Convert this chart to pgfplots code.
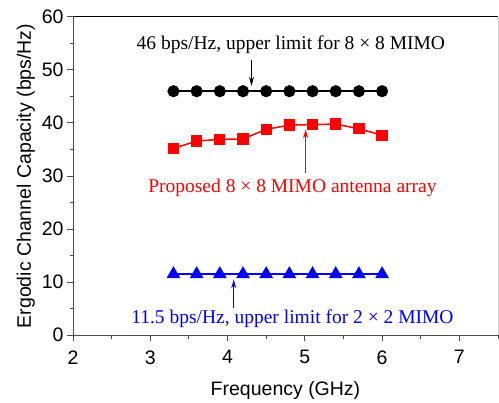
\documentclass[border=0pt]{standalone}
\usepackage{fontspec}
\setmainfont{Liberation Serif}
\newfontfamily\arial{Liberation Sans}
\usepackage{pgfplots}
\pgfplotsset{compat=1.18}
\usetikzlibrary{calc,arrows.meta}

\begin{document}
\begin{tikzpicture}
\begin{axis}[name=ax, scale only axis, width=425pt, height=318pt,
  xmin=2, xmax=7.5, ymin=0, ymax=60,
  xtick={2,...,7}, ytick={0,10,...,60},
  minor xtick={2.5,3.5,...,7.5}, minor ytick={5,15,...,55},
  axis x line*=bottom, axis y line*=left,
  tick align=outside,
  major tick length=6pt, minor tick length=3.5pt,
  axis line style={color=black!70, line width=1pt},
  tick style={color=black!70, line width=1pt},
  tick label style={font=\arial\fontsize{19.5}{22}\selectfont, black},
  xticklabel style={yshift=-6pt},
  label style={font=\arial\fontsize{19.5}{22}\selectfont},
  xlabel style={yshift=-10pt},
  /pgf/number format/assume math mode=true,
  xlabel={Frequency (GHz)}, ylabel={Ergodic Channel Capacity (bps/Hz)},
  clip=false,
]
\draw[black, line width=1pt] (rel axis cs:0,1) -- (rel axis cs:1,1);
\draw[black!20, line width=1pt] (rel axis cs:1,0) -- (rel axis cs:1,1);

\addplot[black, line width=1.5pt, mark=*, mark size=5.3pt] coordinates {
(3.3,46) (3.6,46) (3.9,46) (4.2,46) (4.5,46) (4.8,46) (5.1,46) (5.4,46) (5.7,46) (6.0,46)};
\addplot[red, line width=1.5pt, mark=square*, mark size=4.9pt] coordinates {
(3.3,35.2) (3.6,36.6) (3.9,36.9) (4.2,37.0) (4.5,38.8) (4.8,39.6) (5.1,39.7) (5.4,39.8) (5.7,38.9) (6.0,37.7)};
\addplot[blue, line width=1.5pt, mark=triangle*, mark size=6.4pt] coordinates {
(3.3,11.5) (3.6,11.5) (3.9,11.5) (4.2,11.5) (4.5,11.5) (4.8,11.5) (5.1,11.5) (5.4,11.5) (5.7,11.5) (6.0,11.5)};

\node[anchor=base, font=\fontsize{19.5}{22}\selectfont, black] at (axis cs:4.82,53.8) {46 bps/Hz, upper limit for 8 × 8 MIMO};
\node[anchor=base, font=\fontsize{19.5}{22}\selectfont, red] at (axis cs:4.84,26.8) {Proposed 8 × 8 MIMO antenna array};
\node[anchor=base, font=\fontsize{19.5}{22}\selectfont, blue] at (axis cs:4.84,2.1) {11.5 bps/Hz, upper limit for 2 × 2 MIMO};

\draw[black, line width=1pt, -{Stealth[length=9pt,width=5pt]}] (axis cs:4.31,51.9) -- (axis cs:4.31,47.0);
\draw[red, line width=1pt, -{Stealth[length=9pt,width=5pt]}] (axis cs:5.01,30.6) -- (axis cs:5.01,38.8);
\draw[blue, line width=1pt, -{Stealth[length=9pt,width=5pt]}] (axis cs:4.08,5.1) -- (axis cs:4.08,10.5);
\end{axis}
\path ($(ax.south west)+(-73pt,-61pt)$) rectangle ($(ax.north east)+(1pt,17pt)$);
\end{tikzpicture}
\end{document}
